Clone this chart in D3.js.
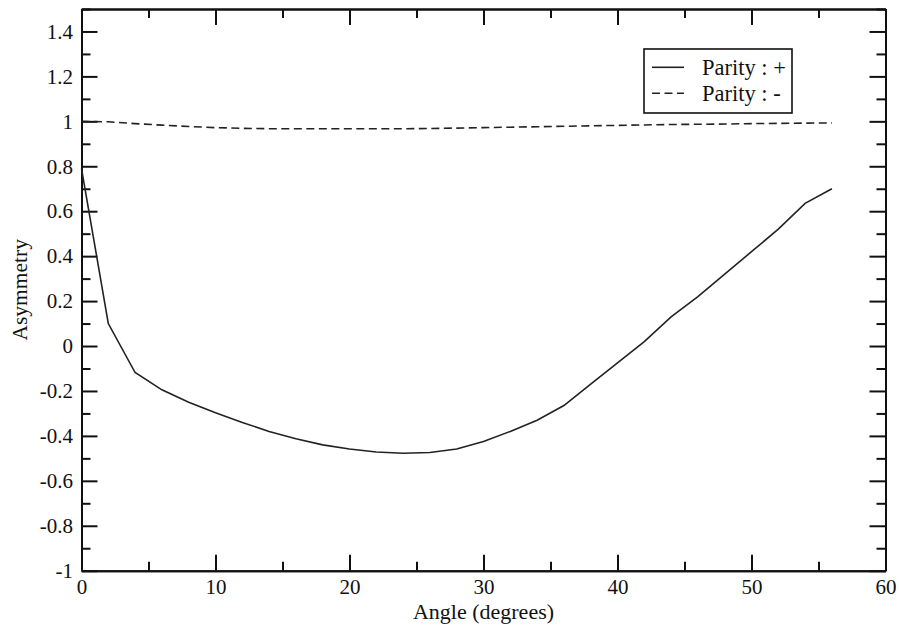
<!DOCTYPE html>
<html>
<head>
<meta charset="utf-8">
<script src="https://cdn.jsdelivr.net/npm/d3@7"></script>
<style>
  html, body { margin: 0; padding: 0; background: #fff; }
  svg { display: block; }
  svg text { font-family: "Times New Roman", "Liberation Serif", Times, serif !important; fill: #111; }
</style>
</head>
<body>
<svg id="chart" width="899" height="625"></svg>
<script>
// Scattering angle in degrees
const angles = [0, 2, 4, 6, 8, 10, 12, 14, 16, 18, 20, 22, 24, 26, 28,
                30, 32, 34, 36, 38, 40, 42, 44, 46, 48, 50, 52, 54, 56];

// Asymmetry for positive parity
const parityPlus = [0.79, 0.10, -0.118, -0.195, -0.25, -0.297, -0.34, -0.38, -0.413, -0.44,
                    -0.458, -0.472, -0.477, -0.474, -0.458, -0.425, -0.38, -0.33, -0.265, -0.17,
                    -0.075, 0.02, 0.13, 0.22, 0.32, 0.42, 0.52, 0.635, 0.70];

// Asymmetry for negative parity
const parityMinus = [1.0, 0.998, 0.99, 0.983, 0.977, 0.972, 0.969, 0.967, 0.967, 0.967,
                     0.967, 0.967, 0.967, 0.968, 0.97, 0.972, 0.974, 0.976, 0.978, 0.98,
                     0.982, 0.984, 0.986, 0.987, 0.988, 0.99, 0.991, 0.992, 0.993];

const xMajorTicks = [0, 10, 20, 30, 40, 50, 60];
const xMinorTicks = [5, 15, 25, 35, 45, 55];
const yMajorTicks = [-1, -0.8, -0.6, -0.4, -0.2, 0, 0.2, 0.4, 0.6, 0.8, 1, 1.2, 1.4];
const yMinorTicks = [-0.9, -0.7, -0.5, -0.3, -0.1, 0.1, 0.3, 0.5, 0.7, 0.9, 1.1, 1.3, 1.5];

const seriesNames = ["Parity : +", "Parity : -"];

const FONT = "'Times New Roman', 'Liberation Serif', serif";
const margin = { left: 81.5, right: 885.5, top: 9, bottom: 570.7 };
const svg = d3.select("#chart");

const x = d3.scaleLinear().domain([0, 60]).range([margin.left, margin.right]);
const y = d3.scaleLinear().domain([-1, 1.5]).range([margin.bottom, margin.top]);

const fmt = d => (Math.round(d * 10) / 10).toString();

function styleAxis(g) {
  g.attr("font-family", FONT);
  g.selectAll("path.domain").attr("stroke", "#111").attr("stroke-width", 2);
  g.selectAll(".tick line").attr("stroke", "#111").attr("stroke-width", 2);
  g.selectAll("text").attr("font-size", 21).attr("fill", "#111");
}

// bottom axis with labels
svg.append("g").attr("transform", `translate(0,${margin.bottom})`)
  .call(d3.axisBottom(x).tickValues(xMajorTicks).tickSize(-16).tickSizeOuter(0).tickPadding(8).tickFormat(d3.format("d")))
  .call(styleAxis);
svg.append("g").attr("transform", `translate(0,${margin.bottom})`)
  .call(d3.axisBottom(x).tickValues(xMinorTicks).tickSize(-9).tickSizeOuter(0).tickFormat(""))
  .call(styleAxis);

// top axis
svg.append("g").attr("transform", `translate(0,${margin.top})`)
  .call(d3.axisTop(x).tickValues(xMajorTicks).tickSize(-16).tickSizeOuter(0).tickFormat(""))
  .call(styleAxis);
svg.append("g").attr("transform", `translate(0,${margin.top})`)
  .call(d3.axisTop(x).tickValues(xMinorTicks).tickSize(-9).tickSizeOuter(0).tickFormat(""))
  .call(styleAxis);

// left axis with labels
svg.append("g").attr("transform", `translate(${margin.left},0)`)
  .call(d3.axisLeft(y).tickValues(yMajorTicks).tickSize(-16).tickSizeOuter(0).tickPadding(8.5).tickFormat(fmt))
  .call(styleAxis);
svg.append("g").attr("transform", `translate(${margin.left},0)`)
  .call(d3.axisLeft(y).tickValues(yMinorTicks).tickSize(-9).tickSizeOuter(0).tickFormat(""))
  .call(styleAxis);

// right axis
svg.append("g").attr("transform", `translate(${margin.right},0)`)
  .call(d3.axisRight(y).tickValues(yMajorTicks).tickSize(-16).tickSizeOuter(0).tickFormat(""))
  .call(styleAxis);
svg.append("g").attr("transform", `translate(${margin.right},0)`)
  .call(d3.axisRight(y).tickValues(yMinorTicks).tickSize(-9).tickSizeOuter(0).tickFormat(""))
  .call(styleAxis);

// axis titles
svg.append("text")
  .attr("x", (margin.left + margin.right) / 2)
  .attr("y", 618.5)
  .attr("text-anchor", "middle")
  .attr("font-family", FONT)
  .attr("font-size", 22)
  .text("Angle (degrees)");

svg.append("text")
  .attr("transform", `translate(27,${(margin.top + margin.bottom) / 2}) rotate(-90)`)
  .attr("text-anchor", "middle")
  .attr("font-family", FONT)
  .attr("font-size", 21.5)
  .text("Asymmetry");

// data lines
const line = d3.line().x(d => x(d[0])).y(d => y(d[1]));
const plusPts = angles.map((a, i) => [a, parityPlus[i]]);
const minusPts = angles.map((a, i) => [a, parityMinus[i]]);

svg.append("path").datum(minusPts)
  .attr("d", line).attr("fill", "none")
  .attr("stroke", "#222").attr("stroke-width", 1.6)
  .attr("stroke-dasharray", "8,4.5");

svg.append("path").datum(plusPts)
  .attr("d", line).attr("fill", "none")
  .attr("stroke", "#222").attr("stroke-width", 1.6);

// legend
const legend = svg.append("g").attr("font-family", FONT);
legend.append("rect")
  .attr("x", 644).attr("y", 49).attr("width", 148).attr("height", 64)
  .attr("fill", "#fff").attr("stroke", "#111").attr("stroke-width", 1.6);

const dashes = [null, "8,4.5"];
seriesNames.forEach((name, i) => {
  const ly = 67.3 + i * 26;
  legend.append("line")
    .attr("x1", 652).attr("x2", 684).attr("y1", ly).attr("y2", ly)
    .attr("stroke", "#222").attr("stroke-width", 1.6)
    .attr("stroke-dasharray", dashes[i]);
  legend.append("text")
    .attr("x", 702).attr("y", ly + 7.5)
    .attr("font-size", 22.5)
    .text(name);
});
</script>
</body>
</html>
